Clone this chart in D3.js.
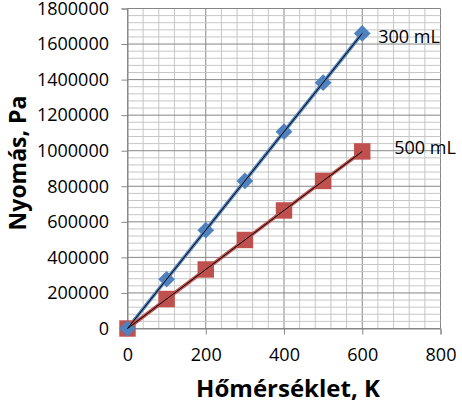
<!DOCTYPE html>
<html>
<head>
<meta charset="utf-8">
<script src="https://cdn.jsdelivr.net/npm/d3@7"></script>
<style>
  body { margin: 0; background: #fff; }
  text { font-family: "Open Sans", sans-serif; }
</style>
</head>
<body>
<script>
let width = 462;
let height = 405;

// data
let temps = [0, 100, 200, 300, 400, 500, 600];
let p300 = [0, 277000, 553000, 830000, 1107000, 1383000, 1660000];
let p500 = [0, 166000, 332000, 498000, 664000, 830000, 996000];
let seriesNames = ["300 mL", "500 mL"];
let xTicks = [0, 200, 400, 600, 800];
let yTicks = [0, 200000, 400000, 600000, 800000, 1000000, 1200000, 1400000, 1600000, 1800000];

let plotLeft = 127.5, plotTop = 8.5, plotRight = 440.5, plotBottom = 328.5;

let x = d3.scaleLinear().domain([0, 800]).range([plotLeft, plotRight]);
let y = d3.scaleLinear().domain([0, 1800000]).range([plotBottom, plotTop]);

let svg = d3.select("body")
            .append("svg")
            .attr("width", width)
            .attr("height", height);

// grid, major and minor
let grid = svg.append("g");
grid.selectAll(".vx")
    .data(d3.range(0, 801, 40))
    .enter().append("line")
    .attr("x1", d => x(d)).attr("x2", d => x(d))
    .attr("y1", plotTop).attr("y2", plotBottom)
    .attr("stroke", d => d % 200 === 0 ? "#868686" : "#c6c6c6")
    .attr("stroke-width", 1);
grid.selectAll(".hy")
    .data(d3.range(0, 1800001, 40000))
    .enter().append("line")
    .attr("x1", plotLeft).attr("x2", plotRight)
    .attr("y1", d => y(d)).attr("y2", d => y(d))
    .attr("stroke", d => d % 200000 === 0 ? "#868686" : "#c6c6c6")
    .attr("stroke-width", 1);

// axes
let xAxis = svg.append("g")
    .attr("transform", "translate(0," + plotBottom + ")")
    .call(d3.axisBottom(x).tickValues(xTicks).tickSize(6).tickPadding(14).tickFormat(d3.format("d")));
let yAxis = svg.append("g")
    .attr("transform", "translate(" + plotLeft + ",0)")
    .call(d3.axisLeft(y).tickValues(yTicks).tickSize(6).tickPadding(12.5).tickFormat(d3.format("d")));

[xAxis, yAxis].forEach(function(a) {
  a.select(".domain").attr("stroke", "#868686");
  a.selectAll(".tick line").attr("stroke", "#868686");
  a.selectAll(".tick text")
    .attr("font-family", "'Open Sans', sans-serif")
    .attr("font-size", 18)
    .attr("fill", "#000");
});

let series = [
  { name: seriesNames[0], values: p300, color: "#4f81bd", shape: "diamond" },
  { name: seriesNames[1], values: p500, color: "#c0504d", shape: "square" }
];

let line = d3.line()
    .x((d, i) => x(temps[i]))
    .y(d => y(d));

series.forEach(function(s) {
  svg.append("path")
    .attr("d", line(s.values))
    .attr("fill", "none")
    .attr("stroke", s.color)
    .attr("stroke-width", 3.5);
});

// markers
series.slice().reverse().forEach(function(s) {
  let sym = s.shape === "diamond"
    ? d3.symbol().type(d3.symbolSquare).size(140)
    : d3.symbol().type(d3.symbolSquare).size(270);
  svg.append("g").selectAll("path")
    .data(s.values)
    .enter().append("path")
    .attr("d", sym)
    .attr("transform", (d, i) => "translate(" + x(temps[i]) + "," + y(d) + ")" + (s.shape === "diamond" ? " rotate(45)" : ""))
    .attr("fill", s.color);
});

// black trendlines
series.forEach(function(s) {
  let n = s.values.length - 1;
  svg.append("line")
    .attr("x1", x(temps[0])).attr("y1", y(0))
    .attr("x2", x(temps[n])).attr("y2", y(s.values[n]))
    .attr("stroke", "#000")
    .attr("stroke-width", 1);
});

// series labels
let labelOffsets = [[16, 10], [32, 3]];
series.forEach(function(s, k) {
  let n = s.values.length - 1;
  svg.append("text")
    .attr("x", x(temps[n]) + labelOffsets[k][0])
    .attr("y", y(s.values[n]) + labelOffsets[k][1])
    .attr("font-size", 18)
    .attr("fill", "#000")
    .text(s.name);
});

// axis titles
svg.append("text")
  .attr("x", 288)
  .attr("y", 397)
  .attr("text-anchor", "middle")
  .attr("font-size", 24)
  .attr("font-weight", "bold")
  .text("Hőmérséklet, K");

svg.append("text")
  .attr("transform", "translate(25.5,163) rotate(-90)")
  .attr("text-anchor", "middle")
  .attr("font-size", 23)
  .attr("font-weight", "bold")
  .text("Nyomás, Pa");
</script>
</body>
</html>
